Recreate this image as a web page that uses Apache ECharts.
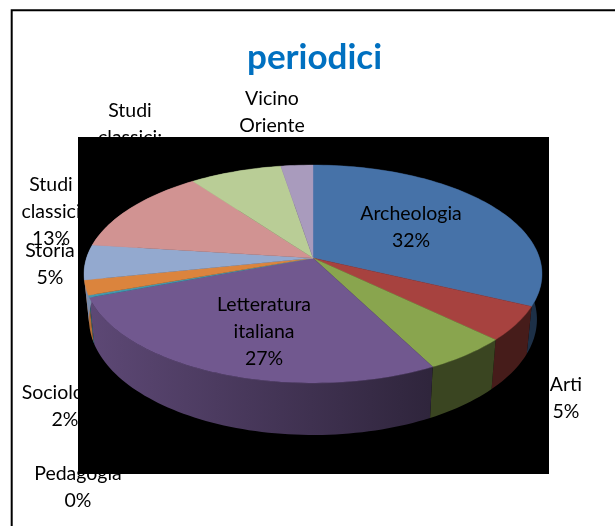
<!DOCTYPE html>
<html>
<head>
<meta charset="utf-8">
<style>
	html, body { margin: 0; padding: 0; background: #fff; }
	#chart { width: 615px; height: 526px; }
</style>
<script src="https://cdn.jsdelivr.net/npm/echarts@6/dist/echarts.min.js"></script>
</head>
<body>
<div id="chart"></div>
<script>
	// valori (le etichette mostrano i valori arrotondati)
	var categories = ["Archeologia", "Arti", "", "Letteratura italiana", "Pedagogia", "Sociologia", "Storia", "Studi classici", "Studi classici:", "Vicino Oriente"];
	var values = [32, 5.1, 5.3, 26.9, 0.3, 2.2, 5.2, 12.9, 7.5, 2.6];
	var percentLabels = ["32%", "5%", "", "27%", "0%", "2%", "5%", "13%", "7%", "3%"];
	var topColors = ["#4672a8", "#a7423f", "#89a54e", "#71588f", "#4198af", "#db843d", "#93a9cf", "#d19392", "#b9cd96", "#a99bbd"];

	// a capo delle etichette
	var labelLines = [
		["Archeologia"], ["Arti"], [], ["Letteratura", "italiana"], ["Pedagogia"],
		["Sociologia"], ["Storia"], ["Studi", "classici"], ["Studi", "classici:"], ["Vicino", "Oriente"]
	];
	var labelCenters = [[411, 214], [566, 385], null, [264, 305], [78, 474], [65, 393], [50, 251], [51, 185], [130, 111], [272, 99]];

	// geometria della torta in prospettiva
	var cx = 313, cy = 258, rx = 226.5, ry = 106.6, persp = 0.1468, depth = 44.4, bottomShrink = 0.978;
	var total = values.reduce(function (a, b) { return a + b; }, 0);

	function topPoint(deg) {
		var a = deg * Math.PI / 180, u = Math.sin(a), v = Math.cos(a), s = 1 / (1 + persp * v);
		return [cx + rx * u * s, cy - ry * v * s];
	}
	function bottomPoint(deg) {
		var a = deg * Math.PI / 180, v = Math.cos(a), s = 1 / (1 + persp * v), p = topPoint(deg);
		return [cx + (p[0] - cx) * bottomShrink, p[1] + depth * s];
	}
	function shade(hex, f) {
		var n = parseInt(hex.slice(1), 16);
		return "rgb(" + Math.round((n >> 16) * f) + "," + Math.round(((n >> 8) & 255) * f) + "," + Math.round((n & 255) * f) + ")";
	}

	var seriesData = [];
	var running = 0;
	for (var i = 0; i < values.length; i++) {
		seriesData.push([running / total * 360, (running + values[i]) / total * 360, i]);
		running += values[i];
	}

	function arc(from, to, fn) {
		var pts = [];
		var steps = Math.max(2, Math.ceil((to - from) / 1.5));
		for (var k = 0; k <= steps; k++) pts.push(fn(from + (to - from) * k / steps));
		return pts;
	}

	function renderSide(params, api) {
		var from = api.value(0), to = api.value(1), idx = api.value(2);
		var pts = arc(from, to, topPoint).concat(arc(from, to, bottomPoint).reverse());
		var base = topColors[idx];
		// il lato si scurisce andando verso destra
		var fill = new echarts.graphic.LinearGradient(90, 0, 430, 0, [
			{ offset: 0, color: shade(base, 0.82) },
			{ offset: 0.65, color: shade(base, 0.56) },
			{ offset: 1, color: shade(base, 0.42) }
		], true);
		return { type: "polygon", shape: { points: pts }, style: { fill: fill } };
	}

	function renderTop(params, api) {
		var from = api.value(0), to = api.value(1), idx = api.value(2);
		var pts = [[cx, cy]].concat(arc(from, to, topPoint));
		return {
			type: "polygon",
			shape: { points: pts },
			style: { fill: topColors[idx], stroke: topColors[idx], lineWidth: 0.4 }
		};
	}

	var textFont = "19.5px Lato, Carlito, sans-serif";
	var lineHeight = 26.7;
	var graphics = [
		// la cornice esce dalla pagina a destra e in basso
		{ type: "rect", z: 1, shape: { x: 11.7, y: 10.3, width: 700, height: 600 }, style: { fill: "#fff", stroke: "#000", lineWidth: 2 } },
		{ type: "rect", z: 3, shape: { x: 78, y: 137, width: 471, height: 337 }, style: { fill: "#000" } }
	];
	categories.forEach(function (name, i) {
		if (!labelCenters[i]) return;
		var lines = labelLines[i].concat([percentLabels[i]]);
		lines.forEach(function (line, j) {
			// Archeologia e Letteratura stanno sopra la torta, le altre sotto il rettangolo nero
			var inside = i === 0 || i === 3;
			graphics.push({
				type: "text",
				z: inside ? 20 : 2,
				style: {
					text: line,
					x: labelCenters[i][0],
					y: labelCenters[i][1] + j * lineHeight,
					align: "center",
					verticalAlign: "middle",
					font: textFont,
					fill: "#000"
				}
			});
		});
	});

	var chart = echarts.init(document.getElementById("chart"), null, { renderer: "canvas" });
	chart.setOption({
		animation: false,
		backgroundColor: "#fff",
		title: {
			text: "periodici",
			left: 242,
			top: 35,
			z: 20,
			textStyle: { color: "#0070c0", fontFamily: "Lato, Carlito, sans-serif", fontWeight: "bold", fontSize: 35 }
		},
		graphic: graphics,
		series: [
			{ type: "custom", coordinateSystem: "none", z: 5, silent: true, data: seriesData, renderItem: renderSide },
			{ type: "custom", coordinateSystem: "none", z: 6, silent: true, data: seriesData, renderItem: renderTop }
		]
	});
</script>
</body>
</html>
